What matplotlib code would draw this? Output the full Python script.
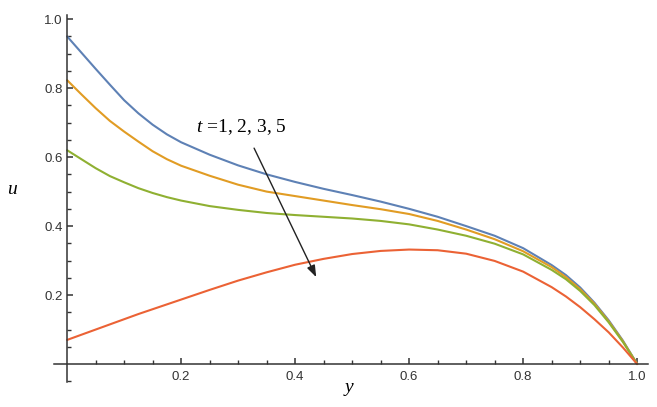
import matplotlib
matplotlib.use("Agg")
import matplotlib.pyplot as plt
from matplotlib.ticker import FixedLocator

plt.rcParams['mathtext.fontset'] = 'custom'
plt.rcParams['mathtext.it'] = 'Liberation Serif:italic'
plt.rcParams['mathtext.rm'] = 'Liberation Serif'

y_vals = [0.0, 0.025, 0.05, 0.075, 0.1, 0.125, 0.15, 0.175, 0.2, 0.25, 0.3, 0.35, 0.4,
          0.45, 0.5, 0.55, 0.6, 0.65, 0.7, 0.75, 0.8, 0.85, 0.875, 0.9, 0.925, 0.95,
          0.975, 1.0]
u_t1 = [0.95, 0.903, 0.856, 0.81, 0.765, 0.727, 0.694, 0.666, 0.643, 0.607, 0.576, 0.55,
        0.528, 0.508, 0.49, 0.471, 0.45, 0.427, 0.40, 0.372, 0.336, 0.287, 0.258, 0.222,
        0.178, 0.127, 0.068, 0.0]
u_t2 = [0.823, 0.782, 0.742, 0.705, 0.674, 0.645, 0.617, 0.594, 0.575, 0.546, 0.52, 0.50,
        0.487, 0.474, 0.461, 0.449, 0.435, 0.415, 0.39, 0.362, 0.327, 0.281, 0.252, 0.217,
        0.175, 0.124, 0.066, 0.0]
u_t3 = [0.62, 0.594, 0.568, 0.545, 0.527, 0.51, 0.496, 0.484, 0.474, 0.458, 0.447, 0.438,
        0.432, 0.427, 0.422, 0.415, 0.405, 0.39, 0.372, 0.349, 0.318, 0.273, 0.246, 0.212,
        0.171, 0.121, 0.064, 0.0]
u_t5 = [0.07, 0.085, 0.10, 0.115, 0.13, 0.145, 0.159, 0.173, 0.187, 0.215, 0.242, 0.266,
        0.288, 0.305, 0.319, 0.328, 0.332, 0.33, 0.32, 0.299, 0.268, 0.223, 0.196, 0.165,
        0.13, 0.092, 0.048, 0.0]

series = [u_t1, u_t2, u_t3, u_t5]
colors = ['#5E81B5', '#E19C24', '#8FB032', '#EB6235']

fig = plt.figure(figsize=(6.57, 4.07), dpi=100)
ax = fig.add_axes([54/657, 1 - 382/407, 594/657, 367/407])

for s, c in zip(series, colors):
    ax.plot(y_vals, s, color=c, lw=1.5, solid_capstyle='round', solid_joinstyle='round')

ax.set_xlim(-0.023, 1.019)
ax.set_ylim(-0.052, 1.012)

for sp in ['top', 'right']:
    ax.spines[sp].set_visible(False)
ax.spines['left'].set_position(('data', 0))
ax.spines['bottom'].set_position(('data', 0))
for sp in ['left', 'bottom']:
    ax.spines[sp].set_color('#333333')
    ax.spines[sp].set_linewidth(1.1)

ax.xaxis.set_major_locator(FixedLocator([0.2, 0.4, 0.6, 0.8, 1.0]))
ax.yaxis.set_major_locator(FixedLocator([0.2, 0.4, 0.6, 0.8, 1.0]))
ax.xaxis.set_minor_locator(FixedLocator([0.05, 0.1, 0.15, 0.25, 0.3, 0.35, 0.45, 0.5, 0.55,
                                         0.65, 0.7, 0.75, 0.85, 0.9, 0.95]))
ax.yaxis.set_minor_locator(FixedLocator([-0.05, 0.05, 0.1, 0.15, 0.25, 0.3, 0.35, 0.45, 0.5, 0.55,
                                         0.65, 0.7, 0.75, 0.85, 0.9, 0.95]))
ax.set_xticklabels(['0.2', '0.4', '0.6', '0.8', '1.0'])
ax.set_yticklabels(['0.2', '0.4', '0.6', '0.8', '1.0'])
ax.tick_params(which='major', direction='in', length=4.5, width=1.1, color='#333333',
               labelsize=9.5, labelcolor='#333333', labelfontfamily='Liberation Sans')
ax.tick_params(which='minor', direction='in', length=2.8, width=1.0, color='#333333')
ax.tick_params(axis='x', which='major', pad=5)
ax.tick_params(axis='y', which='major', pad=3)

fig.text(12/657, 1 - 190/407, 'u', family='Liberation Serif', style='italic',
         fontsize=14, ha='center', va='center')
fig.text(349/657, 1 - 388/407, 'y', family='Liberation Serif', style='italic',
         fontsize=14, ha='center', va='center')

ax.text(0.226, 0.688, r'$t$ =1, 2, 3, 5', family='Liberation Serif', fontsize=14,
        ha='left', va='center')
ax.annotate('', xy=(0.437, 0.252), xytext=(0.328, 0.626),
            arrowprops=dict(arrowstyle='-|>,head_length=0.7,head_width=0.25',
                            color='#222222', lw=1.0, shrinkA=0, shrinkB=0))

fig.savefig('out.png', dpi=100)
